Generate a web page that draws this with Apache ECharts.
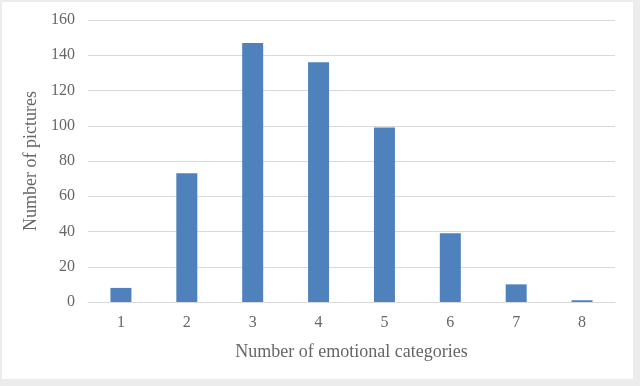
<!DOCTYPE html>
<html>
<head>
<meta charset="utf-8">
<script src="https://cdn.jsdelivr.net/npm/echarts@6/dist/echarts.min.js"></script>
<style>
html,body{margin:0;padding:0;background:#ececec;}
#frame{position:absolute;left:2px;top:2px;width:631px;height:377px;background:#fff;}
#chart{position:absolute;left:0;top:0;width:640px;height:386px;}
</style>
</head>
<body>
<div id="frame"></div>
<div id="chart"></div>
<script>
const categories = ['1','2','3','4','5','6','7','8'];
const pictureCounts = [8, 73, 147, 136, 99, 39, 10, 1];
const yTicks = {min: 0, max: 160, interval: 20};
const xTitle = 'Number of emotional categories';
const yTitle = 'Number of pictures';

const font = '"Liberation Serif", "DejaVu Serif", serif';
const chart = echarts.init(document.getElementById('chart'), null, {renderer: 'canvas'});
chart.setOption({
  backgroundColor: 'transparent',
  animation: false,
  grid: {left: 88, right: 25, top: 20, bottom: 84, containLabel: false},
  xAxis: {
    type: 'category',
    data: categories,
    axisLine: {show: true, lineStyle: {color: '#d9d9d9', width: 1}},
    axisTick: {show: false},
    axisLabel: {color: '#666', fontFamily: font, fontSize: 16, margin: 13},
    name: xTitle,
    nameLocation: 'middle',
    nameGap: 41,
    nameTextStyle: {color: '#666', fontFamily: font, fontSize: 18}
  },
  yAxis: {
    type: 'value',
    min: yTicks.min, max: yTicks.max, interval: yTicks.interval,
    axisLine: {show: false},
    axisTick: {show: false},
    axisLabel: {color: '#666', fontFamily: font, fontSize: 16, margin: 13},
    splitLine: {lineStyle: {color: '#d9d9d9', width: 1}},
    name: yTitle,
    nameLocation: 'middle',
    nameGap: 42,
    nameTextStyle: {color: '#666', fontFamily: font, fontSize: 18}
  },
  series: [{
    type: 'bar',
    data: pictureCounts,
    barWidth: 21,
    itemStyle: {color: '#4f81bd'}
  }]
});
</script>
</body>
</html>
